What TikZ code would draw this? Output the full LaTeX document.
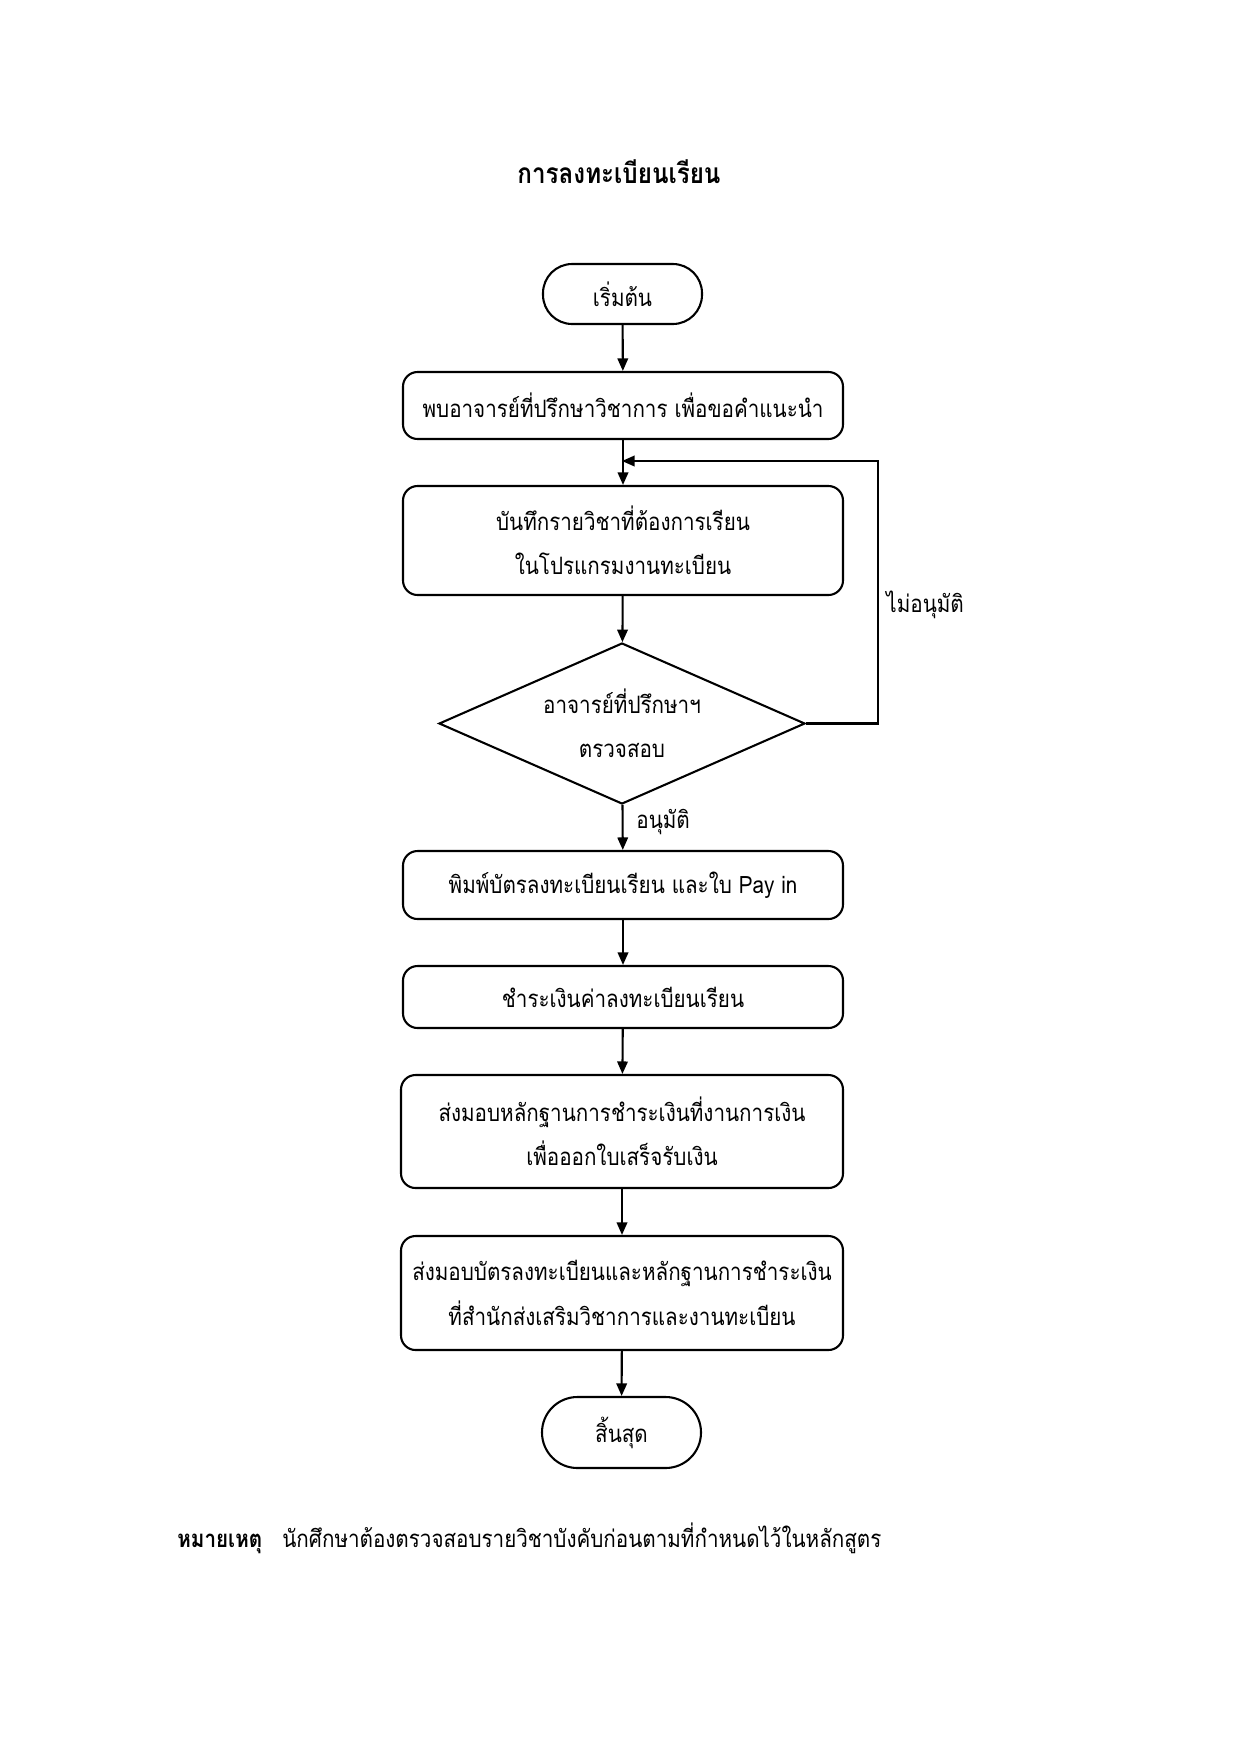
\documentclass[tikz,border=0pt]{standalone}
\usepackage{fontspec}
\setmainfont[Script=Thai,FakeStretch=0.86]{Loma}
\usetikzlibrary{shapes.geometric,arrows.meta}
\newdimen\pxu \pxu=0.48pt
\begin{document}
\begin{tikzpicture}[x=0.48pt,y=-0.48pt,
  every node/.style={font=\fontsize{11.5}{21.3}\selectfont},
  proc/.style={draw,line width=1pt,rounded corners=7pt,minimum width=440\pxu,align=center,inner sep=0pt},
  term/.style={draw,line width=1pt,minimum width=159\pxu,align=center,inner sep=0pt},
  dia/.style={draw,line width=1pt,shape=diamond,aspect=2.27,minimum width=366\pxu,minimum height=161\pxu,align=center,inner sep=0pt},
  arr/.style={-{Triangle[length=6pt,width=5pt]},line width=1pt},
  lbl/.style={anchor=west,inner sep=0pt}]
\useasboundingbox (0,0) rectangle (1239,1754);
\node[font=\fontsize{13.5}{18}\selectfont\bfseries] (title) at (619,172) {การลงทะเบียนเรียน};
\node[term,minimum height=60\pxu,rounded corners=14pt] (start) at (622.5,294) {เริ่มต้น};
\node[proc,minimum height=67\pxu] (b1) at (623,405.5) {พบอาจารย์ที่ปรึกษาวิชาการ เพื่อขอคำแนะนำ};
\node[proc,minimum height=109\pxu] (b2) at (623,540.5) {บันทึกรายวิชาที่ต้องการเรียน\\ในโปรแกรมงานทะเบียน};
\node[dia] (d) at (622,723.5) {อาจารย์ที่ปรึกษาฯ\\ตรวจสอบ};
\node[proc,minimum height=68\pxu] (b3) at (623,885) {พิมพ์บัตรลงทะเบียนเรียน และใบ Pay in};
\node[proc,minimum height=62\pxu] (b4) at (623,997) {ชำระเงินค่าลงทะเบียนเรียน};
\node[proc,minimum width=442\pxu,minimum height=113\pxu] (b5) at (622,1131.5) {ส่งมอบหลักฐานการชำระเงินที่งานการเงิน\\เพื่อออกใบเสร็จรับเงิน};
\node[proc,minimum width=442\pxu,minimum height=114\pxu] (b6) at (622,1293) {ส่งมอบบัตรลงทะเบียนและหลักฐานการชำระเงิน\\ที่สำนักส่งเสริมวิชาการและงานทะเบียน};
\node[term,minimum height=71\pxu,rounded corners=17pt] (end) at (621.5,1432.5) {สิ้นสุด};
\coordinate (join) at (622,461);
\coordinate (loopc) at (878,461);
\draw[arr] (start) -- (b1);
\draw[arr] (b1) -- (b2);
\draw[arr] (b2) -- (d);
\draw[arr] (d.east) -| (loopc) -- (join);
\draw[arr] (d) -- (b3);
\draw[arr] (b3) -- (b4);
\draw[arr] (b4) -- (b5);
\draw[arr] (b5) -- (b6);
\draw[arr] (b6) -- (end);
\node[lbl] (no) at (886,605) {ไม่อนุมัติ};
\node[lbl] (yes) at (636,822) {อนุมัติ};
\node[anchor=base west,inner sep=0pt,font=\fontsize{11.5}{19.2}\selectfont\bfseries] (notehd) at (177,1547) {หมายเหตุ};
\node[anchor=base west,inner sep=0pt] (note) at (282,1547) {นักศึกษาต้องตรวจสอบรายวิชาบังคับก่อนตามที่กำหนดไว้ในหลักสูตร};
\end{tikzpicture}
\end{document}
